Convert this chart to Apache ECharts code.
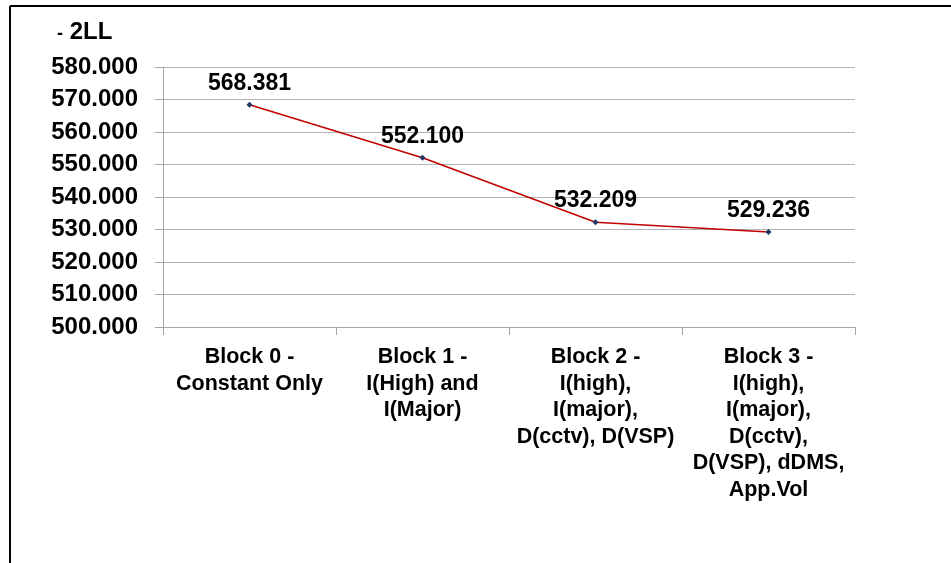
<!DOCTYPE html>
<html>
<head>
<meta charset="utf-8">
<script src="https://cdn.jsdelivr.net/npm/echarts@6/dist/echarts.min.js"></script>
<style>
html,body{margin:0;padding:0;background:#fff;}
#c{width:951px;height:563px;}
</style>
</head>
<body>
<div id="c"></div>
<script>
const categories = [
  "Block 0 -\nConstant Only",
  "Block 1 -\nI(High) and\nI(Major)",
  "Block 2 -\nI(high),\nI(major),\nD(cctv), D(VSP)",
  "Block 3 -\nI(high),\nI(major),\nD(cctv),\nD(VSP), dDMS,\nApp.Vol"
];
const values = [568.381, 552.100, 532.209, 529.236];
const yMin = 500, yMax = 580, yStep = 10;
const axisTitleDash = "-";
const axisTitleText = "2LL";

const FONT = "'Liberation Sans', Arial, sans-serif";
const chart = echarts.init(document.getElementById('c'), null, {renderer: 'canvas'});
chart.setOption({
  backgroundColor: '#ffffff',
  animation: false,
  grid: {left: 163, right: 96, top: 67, bottom: 236, containLabel: false},
  graphic: [
    {type: 'line', shape: {x1: 10, y1: 6, x2: 951, y2: 6}, style: {stroke: '#000', lineWidth: 2}},
    {type: 'line', shape: {x1: 10, y1: 6, x2: 10, y2: 563}, style: {stroke: '#000', lineWidth: 2}},
    {type: 'text', left: 57, top: 20, style: {
      text: '{d|' + axisTitleDash + '}{t| ' + axisTitleText + '}',
      rich: {
        d: {font: "bold 18px " + FONT, fill: '#000', verticalAlign: 'bottom', padding: [0, 0, 1, 0]},
        t: {font: "bold 24px " + FONT, fill: '#000'}
      }
    }}
  ],
  xAxis: {
    type: 'category',
    data: categories,
    boundaryGap: true,
    axisLine: {lineStyle: {color: '#a6a6a6', width: 1}},
    axisTick: {show: true, length: 8, alignWithLabel: false, lineStyle: {color: '#a6a6a6'}},
    axisLabel: {
      interval: 0, margin: 17, color: '#000',
      fontFamily: FONT, fontWeight: 'bold', fontSize: 21.5, lineHeight: 26.5, align: 'center'
    },
    splitLine: {show: false}
  },
  yAxis: {
    type: 'value',
    min: yMin, max: yMax, interval: yStep,
    axisLine: {show: true, lineStyle: {color: '#a6a6a6', width: 1}},
    axisTick: {show: true, length: 8, lineStyle: {color: '#a6a6a6'}},
    axisLabel: {
      margin: 25, color: '#000', fontFamily: FONT, fontWeight: 'bold', fontSize: 24,
      formatter: v => v.toFixed(3)
    },
    splitLine: {show: true, lineStyle: {color: '#b3b3b3', width: 1}}
  },
  series: [{
    type: 'line',
    data: values,
    symbol: 'diamond',
    symbolSize: 6,
    itemStyle: {color: '#1f3864'},
    lineStyle: {color: '#c00000', width: 1.5},
    label: {
      show: true, position: 'top', distance: 7, color: '#000',
      fontFamily: FONT, fontWeight: 'bold', fontSize: 23,
      formatter: p => p.value.toFixed(3)
    }
  }]
});
</script>
</body>
</html>
